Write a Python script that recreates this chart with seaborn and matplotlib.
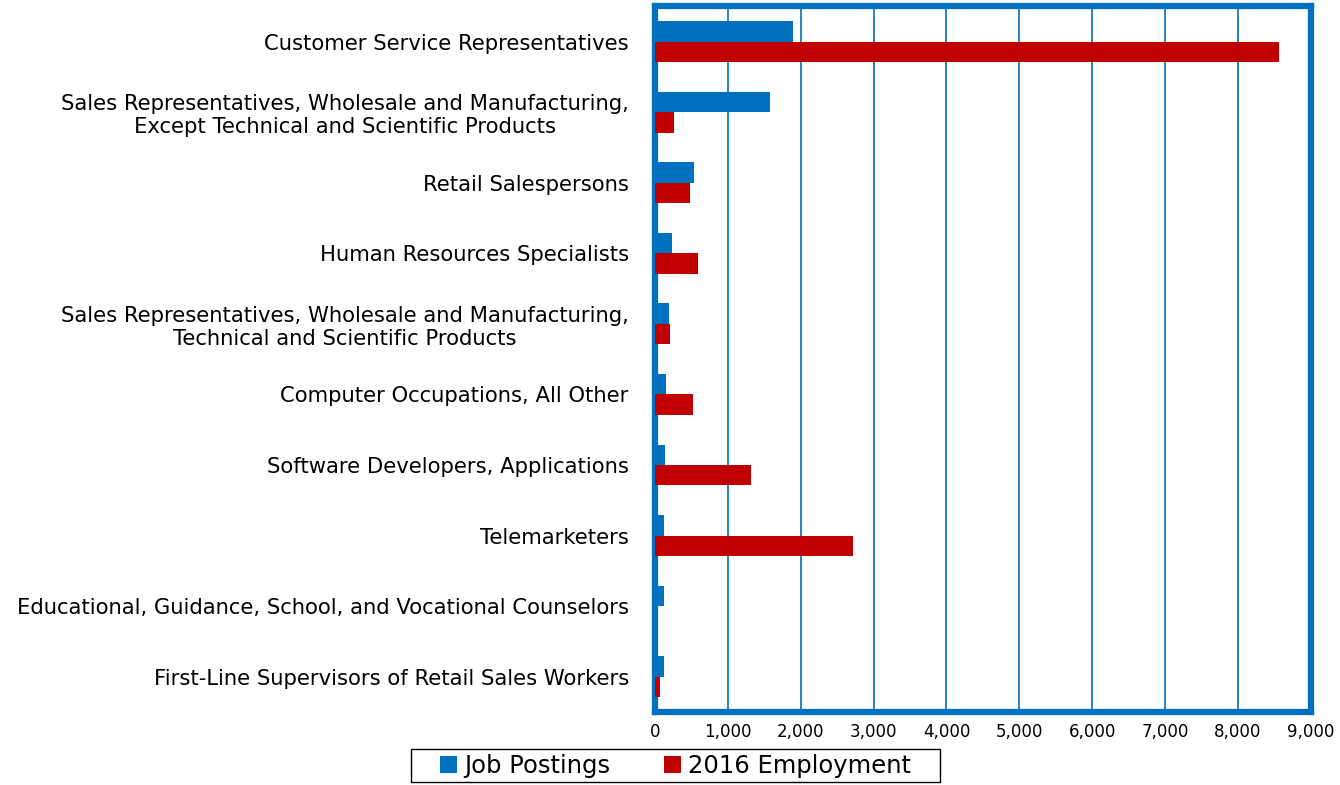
import numpy as np
import pandas as pd
import matplotlib
matplotlib.use("Agg")
import matplotlib.pyplot as plt
import seaborn as sns
from matplotlib.patches import Rectangle
from matplotlib.ticker import FuncFormatter, FixedLocator

occupations = [
    "Customer Service Representatives",
    "Sales Representatives, Wholesale and Manufacturing,\nExcept Technical and Scientific Products",
    "Retail Salespersons",
    "Human Resources Specialists",
    "Sales Representatives, Wholesale and Manufacturing,\nTechnical and Scientific Products",
    "Computer Occupations, All Other",
    "Software Developers, Applications",
    "Telemarketers",
    "Educational, Guidance, School, and Vocational Counselors",
    "First-Line Supervisors of Retail Sales Workers",
]
job_postings = [1896, 1580, 536, 234, 183, 142, 137, 124, 119, 114]
employment_2016 = [8567, 261, 476, 590, 197, 517, 1310, 2716, 0, 64]
series_names = ["Job Postings", "2016 Employment"]

df = pd.DataFrame({
    "Occupation": occupations * 2,
    "Value": job_postings + employment_2016,
    "Series": [series_names[0]] * len(occupations) + [series_names[1]] * len(occupations),
})

blue = "#0070C0"
red = "#C00000"

sns.set_style("white")
plt.rcParams["font.family"] = ["DejaVu Sans"]

fig, ax = plt.subplots(figsize=(13.4, 7.85), dpi=100)
fig.subplots_adjust(left=0.489, right=0.978, top=0.992, bottom=0.093)

sns.barplot(data=df, y="Occupation", x="Value", hue="Series", orient="h",
            palette=[blue, red], width=0.58, gap=0, dodge=True,
            saturation=1, linewidth=0, ax=ax, zorder=3)

ax.set_xlim(0, 9000)
ax.set_ylim(len(occupations) - 0.5, -0.5)
ax.xaxis.set_major_locator(FixedLocator(np.arange(0, 9001, 1000)))
ax.xaxis.set_major_formatter(FuncFormatter(lambda v, p: f"{int(v):,}"))
ax.grid(axis="x", color=blue, linewidth=1.2, zorder=0)
ax.grid(axis="y", visible=False)
ax.set_axisbelow(True)

for s in ax.spines.values():
    s.set_color(blue)
    s.set_linewidth(4.5)
    s.set_visible(True)

ax.set_xlabel("")
ax.set_ylabel("")
ax.tick_params(axis="x", which="major", length=6, width=1.2, color=blue,
               labelsize=12, labelcolor="black", direction="out", pad=2)
ax.tick_params(axis="y", which="major", length=0, labelsize=15.2, labelcolor="black", pad=19)
ax.set_yticks(np.arange(len(occupations) + 1) - 0.5, minor=True)
ax.tick_params(axis="y", which="minor", length=8, width=1.5, color=blue, direction="out")
for lbl in ax.get_yticklabels():
    lbl.set_horizontalalignment("right")
    lbl.set_multialignment("center")

handles, labels = ax.get_legend_handles_labels()
ax.legend_.remove()
leg = fig.legend(handles, labels, loc="lower center", bbox_to_anchor=(0.504, -0.003),
                 ncol=2, frameon=False, fontsize=17.5, labelcolor="black",
                 handlelength=0.7, handleheight=0.7, handletextpad=0.3,
                 columnspacing=2.2, borderpad=0.2, borderaxespad=0.2)

# wider legend frame, like the original box
fig.canvas.draw()
bb = leg.get_window_extent().transformed(fig.transFigure.inverted())
padx = 24 / fig.bbox.width
fig.add_artist(Rectangle((bb.x0 - padx, bb.y0), bb.width + 2 * padx, bb.height,
                         transform=fig.transFigure, fill=False,
                         edgecolor="black", linewidth=1.0))

fig.savefig("out.png", dpi=100)
